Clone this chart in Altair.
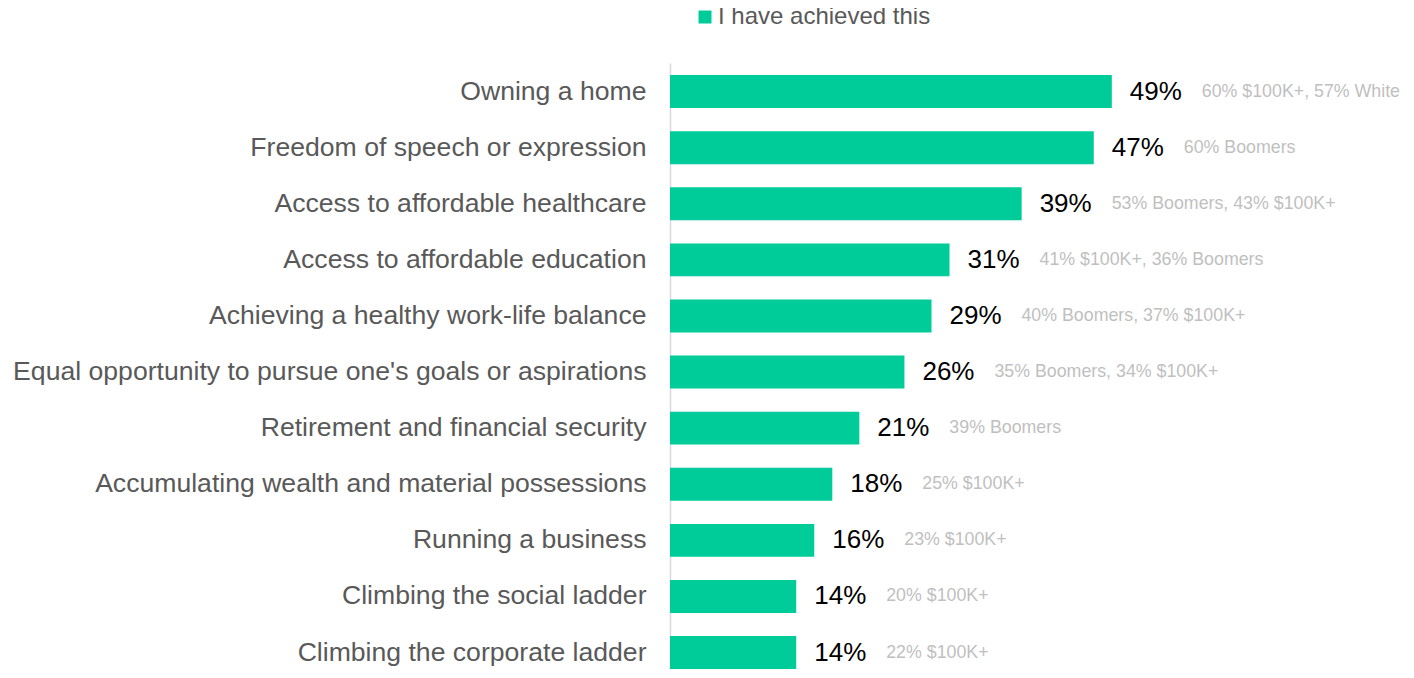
import altair as alt
import pandas as pd

categories = [
    "Owning a home",
    "Freedom of speech or expression",
    "Access to affordable healthcare",
    "Access to affordable education",
    "Achieving a healthy work-life balance",
    "Equal opportunity to pursue one's goals or aspirations",
    "Retirement and financial security",
    "Accumulating wealth and material possessions",
    "Running a business",
    "Climbing the social ladder",
    "Climbing the corporate ladder",
]
values = [49, 47, 39, 31, 29, 26, 21, 18, 16, 14, 14]
notes = [
    "60% $100K+, 57% White",
    "60% Boomers",
    "53% Boomers, 43% $100K+",
    "41% $100K+, 36% Boomers",
    "40% Boomers, 37% $100K+",
    "35% Boomers, 34% $100K+",
    "39% Boomers",
    "25% $100K+",
    "23% $100K+",
    "20% $100K+",
    "22% $100K+",
]
series_name = "I have achieved this"

df = pd.DataFrame({
    "category": categories,
    "value": values,
    "label": [f"{v}%" for v in values],
    "note": notes,
    "series": [series_name] * len(categories),
})

FONT = "Liberation Sans"
GREEN = "#00CC99"

y_enc = alt.Y(
    "category:N",
    sort=categories,
    title=None,
    scale=alt.Scale(paddingInner=0.413, paddingOuter=0.108, align=1),
    axis=alt.Axis(
        labelFont=FONT,
        labelFontSize=26.6,
        labelColor="#595959",
        labelPadding=24,
        labelLimit=800,
        ticks=False,
        domain=True,
        domainColor="#d9d9d9",
        domainWidth=1.5,
        grid=False,
    ),
)
x_scale = alt.Scale(domain=[0, 60], nice=False)

bars = alt.Chart(df).mark_bar().encode(
    y=y_enc,
    x=alt.X("value:Q", scale=x_scale, axis=None),
    color=alt.Color(
        "series:N",
        scale=alt.Scale(range=[GREEN]),
        legend=alt.Legend(
            title=None,
            orient="none",
            legendX=23,
            legendY=-58,
            symbolType="square",
            symbolSize=169,
            symbolStrokeWidth=0,
            labelFont=FONT,
            labelFontSize=24,
            labelColor="#595959",
            labelOffset=1,
            labelLimit=600,
            padding=0,
        ),
    ),
)

pct = alt.Chart(df).mark_text(
    align="left", baseline="middle", dx=18, font=FONT, fontSize=26, color="#000000"
).encode(
    y=alt.Y("category:N", sort=categories),
    x=alt.X("value:Q", scale=x_scale),
    text="label:N",
)

note = alt.Chart(df).mark_text(
    align="left", baseline="middle", dx=90, font=FONT, fontSize=17.8, color="#bfbfbf"
).encode(
    y=alt.Y("category:N", sort=categories),
    x=alt.X("value:Q", scale=x_scale),
    text="note:N",
)

chart = (
    alt.layer(bars, pct, note)
    .properties(
        width=541,
        height=606,
        padding={"left": 662, "top": 55, "right": 195, "bottom": 0},
        autosize=alt.AutoSizeParams(type="none"),
    )
    .configure_view(stroke=None)
)

chart.save("out.html", embed_options={"renderer": "svg", "actions": False})
